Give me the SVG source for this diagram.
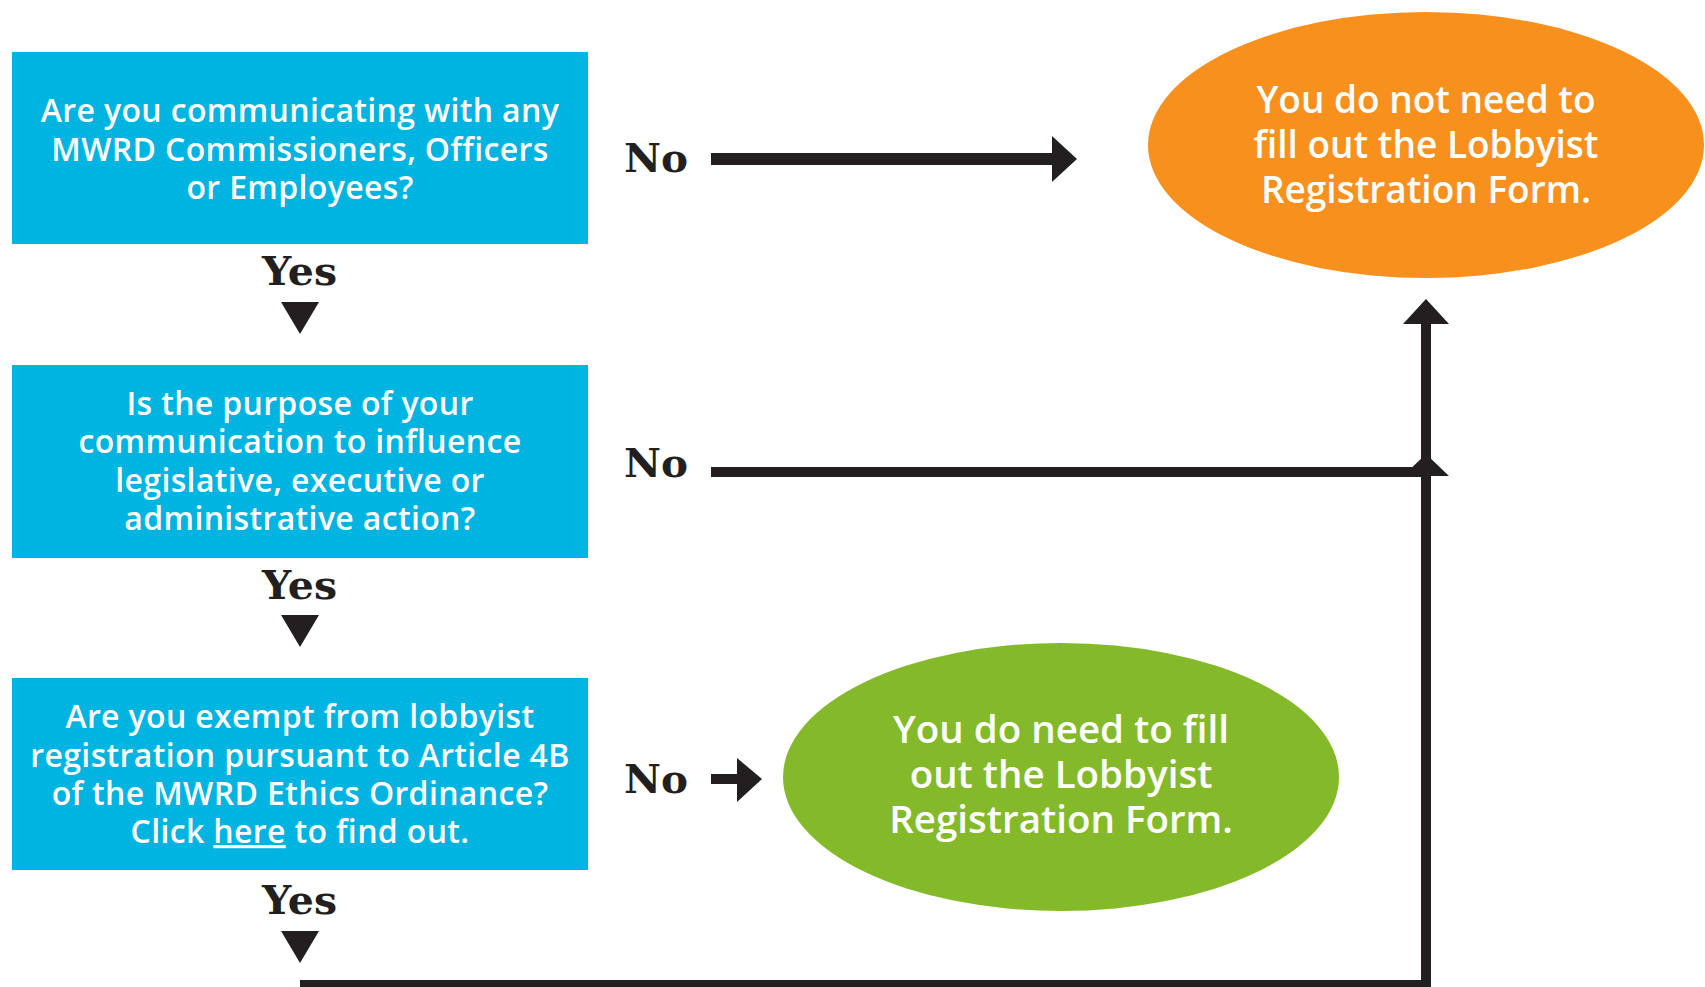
<svg xmlns="http://www.w3.org/2000/svg" width="1705" height="987" viewBox="0 0 1705 987">
<style>
.box{fill:#00B4E1}
.bt{font-family:"Open Sans","Noto Sans",sans-serif;font-weight:600;font-size:32px;letter-spacing:0.35px;fill:#fff;text-anchor:middle}
.et{font-family:"Open Sans","Noto Sans",sans-serif;font-weight:600;font-size:37px;fill:#fff;text-anchor:middle}
.eg{font-size:38.5px}
.lbl{font-family:"DejaVu Serif","Liberation Serif",serif;font-weight:bold;font-size:40px;fill:#231F20}
.ln{fill:#231F20}
</style>
<rect width="1705" height="987" fill="#fff"/>
<g id="q1">
<rect class="box" x="12" y="52" width="576" height="192"/>
<text class="bt" x="300" y="122">Are you communicating with any</text>
<text class="bt" x="300" y="161">MWRD Commissioners, Officers</text>
<text class="bt" x="300" y="199">or Employees?</text>
</g>
<g id="q2">
<rect class="box" x="12" y="365" width="576" height="193"/>
<text class="bt" x="300" y="415">Is the purpose of your</text>
<text class="bt" x="300" y="453">communication to influence</text>
<text class="bt" x="300" y="492">legislative, executive or</text>
<text class="bt" x="300" y="530">administrative action?</text>
</g>
<g id="q3">
<rect class="box" x="12" y="678" width="576" height="192"/>
<text class="bt" x="300" y="728">Are you exempt from lobbyist</text>
<text class="bt" x="300" y="767">registration pursuant to Article 4B</text>
<text class="bt" x="300" y="805">of the MWRD Ethics Ordinance?</text>
<text class="bt" x="300" y="843">Click <tspan text-decoration="underline">here</tspan> to find out.</text>
</g>
<g id="no-need">
<ellipse cx="1426" cy="145" rx="278" ry="133" fill="#F8901E"/>
<text class="et" x="1426" y="113">You do not need to</text>
<text class="et" x="1426" y="158">fill out the Lobbyist</text>
<text class="et" x="1426" y="203">Registration Form.</text>
</g>
<g id="need">
<ellipse cx="1061" cy="777" rx="278" ry="134" fill="#84BA2A"/>
<text class="et eg" x="1061" y="743">You do need to fill</text>
<text class="et eg" x="1061" y="788">out the Lobbyist</text>
<text class="et eg" x="1061" y="833">Registration Form.</text>
</g>
<g id="connectors">
<text class="lbl" x="262" y="285" textLength="75" lengthAdjust="spacingAndGlyphs">Yes</text>
<polygon class="ln" points="281,302 319,302 300,334"/>
<text class="lbl" x="262" y="599" textLength="75" lengthAdjust="spacingAndGlyphs">Yes</text>
<polygon class="ln" points="281,615 319,615 300,647"/>
<text class="lbl" x="262" y="914" textLength="75" lengthAdjust="spacingAndGlyphs">Yes</text>
<polygon class="ln" points="281,931 319,931 300,963"/>
<text class="lbl" x="624" y="172" textLength="64" lengthAdjust="spacingAndGlyphs">No</text>
<rect class="ln" x="711" y="153" width="342" height="12"/>
<polygon class="ln" points="1052,136 1077,159 1052,182"/>
<text class="lbl" x="624" y="477" textLength="64" lengthAdjust="spacingAndGlyphs">No</text>
<rect class="ln" x="711" y="467" width="710" height="10"/>
<polygon class="ln" points="1403,476 1426,454 1449,476"/>
<text class="lbl" x="624" y="793" textLength="64" lengthAdjust="spacingAndGlyphs">No</text>
<rect class="ln" x="711" y="774" width="27" height="10"/>
<polygon class="ln" points="737,758 762,779 737,802"/>
<rect class="ln" x="300" y="980" width="1131" height="8"/>
<rect class="ln" x="1421" y="320" width="10" height="668"/>
<polygon class="ln" points="1403,324 1426,299 1449,324"/>
</g>
</svg>
